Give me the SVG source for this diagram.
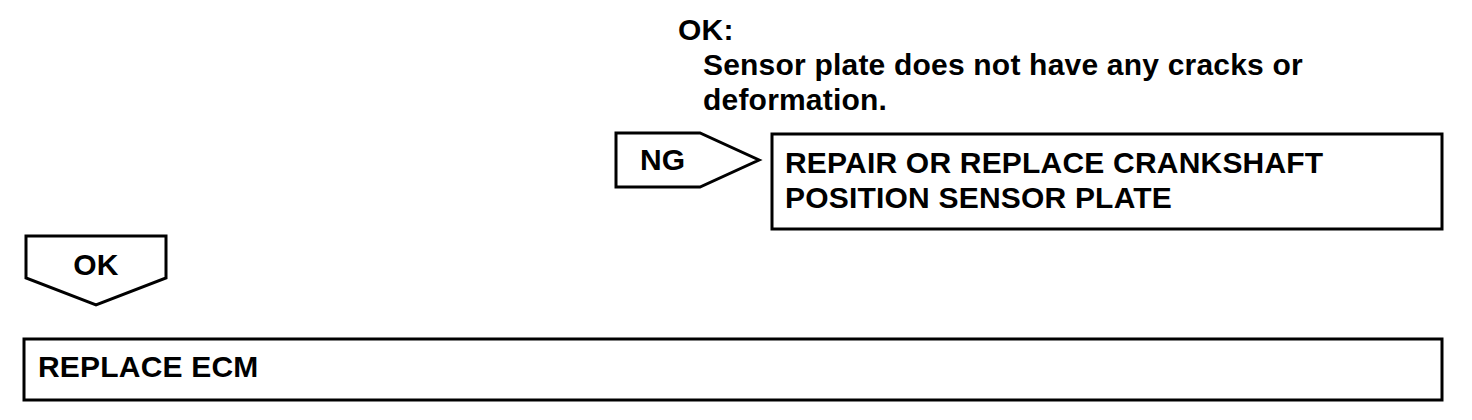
<svg xmlns="http://www.w3.org/2000/svg" width="1472" height="420" viewBox="0 0 1472 420">
<style>
.t{font-family:"Liberation Sans",Arial,sans-serif;font-weight:bold;font-size:30px;fill:#000;letter-spacing:0.2px}
.b{fill:#fff;stroke:#000;stroke-width:3}
</style>
<rect width="1472" height="420" fill="#fff"/>
<g id="note">
<text class="t" x="678" y="40">OK:</text>
<text class="t" x="703" y="75">Sensor plate does not have any cracks or</text>
<text class="t" x="703" y="110">deformation.</text>
</g>
<g id="connectors">
<g id="ng-arrow">
<polygon class="b" points="616,133 700,133 759,160 700,187 616,187"/>
<text class="t" x="640" y="170">NG</text>
</g>
<g id="ok-arrow">
<polygon class="b" points="26,236 166,236 166,278 96,305 26,278"/>
<text class="t" x="96" y="275" text-anchor="middle">OK</text>
</g>
</g>
<g id="repair">
<rect class="b" x="772" y="134" width="670" height="95"/>
<text class="t" x="785" y="173">REPAIR OR REPLACE CRANKSHAFT</text>
<text class="t" x="785" y="208">POSITION SENSOR PLATE</text>
</g>
<g id="replace-ecm">
<rect class="b" x="24" y="339" width="1418" height="61"/>
<text class="t" x="38" y="377">REPLACE ECM</text>
</g>
</svg>
